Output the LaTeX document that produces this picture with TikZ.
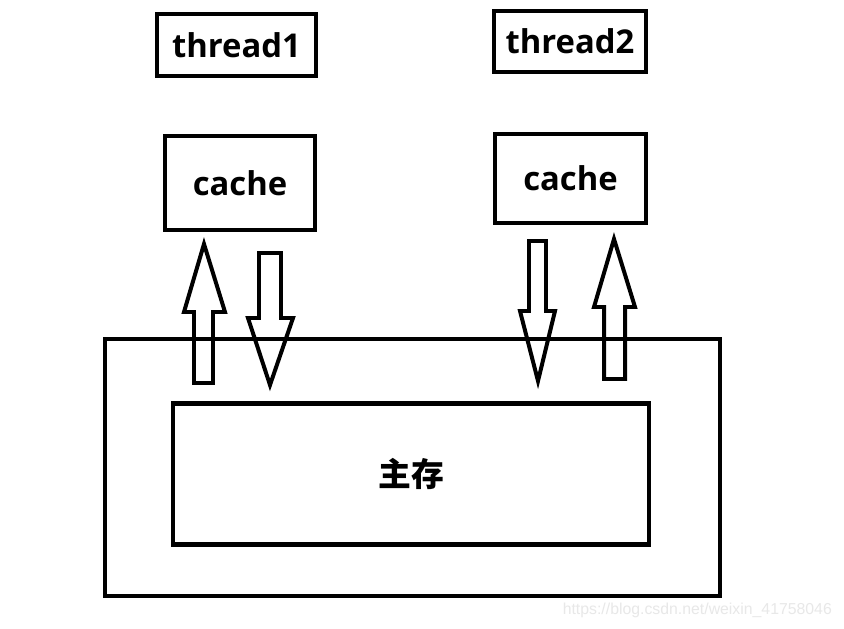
\documentclass[tikz,border=0pt]{standalone}
\usepackage{fontspec}
\setmainfont{Open Sans}
\newfontfamily\cjkfont{Noto Sans CJK SC}
\newfontfamily\wmfont{Liberation Sans}
\begin{document}
\begin{tikzpicture}[x=0.03cm,y=-0.03cm,
  box/.style={draw=black,line width=3.6pt,rectangle,inner sep=0pt,font=\fontsize{28}{32}\selectfont\bfseries},
  fatarrow/.style={draw=black,line width=3.4pt,line join=miter}]
\useasboundingbox[fill=white] (0,0) rectangle (844,629);
% boxes
\node[box,minimum width=159*0.03cm,minimum height=62*0.03cm] (t1) at (236.5,45) {thread1};
\node[box,minimum width=152*0.03cm,minimum height=61*0.03cm] (t2) at (570,41.5) {thread2};
\node[box,minimum width=150*0.03cm,minimum height=94*0.03cm] (c1) at (240,183) {cache};
\node[box,minimum width=151*0.03cm,minimum height=89*0.03cm] (c2) at (570.5,178.5) {cache};
\node[box,minimum width=615*0.03cm,minimum height=257*0.03cm] (outer) at (412.5,467.5) {};
\node[box,minimum width=476*0.03cm,minimum height=141*0.03cm,font=\fontsize{28}{32}\selectfont\cjkfont\bfseries] (mem) at (411,474) {主存};
% arrows
\draw[fatarrow] (204,244) -- (225,312) -- (213,312) -- (213,383) -- (194,383) -- (194,312) -- (184,312) -- cycle;
\draw[fatarrow] (259,253) -- (281,253) -- (281,318) -- (293,318) -- (270,385) -- (248,318) -- (259,318) -- cycle;
\draw[fatarrow] (529,241) -- (546,241) -- (546,311) -- (555,311) -- (538,381) -- (520,311) -- (529,311) -- cycle;
\draw[fatarrow] (614,239) -- (635,307) -- (625,307) -- (625,379) -- (604,379) -- (604,307) -- (594,307) -- cycle;
% watermark
\node[text=black!9,font=\wmfont\fontsize{13.5}{15}\selectfont,anchor=east] (wm) at (836,610) {https://blog.csdn.net/weixin\_41758046};
\end{tikzpicture}
\end{document}
